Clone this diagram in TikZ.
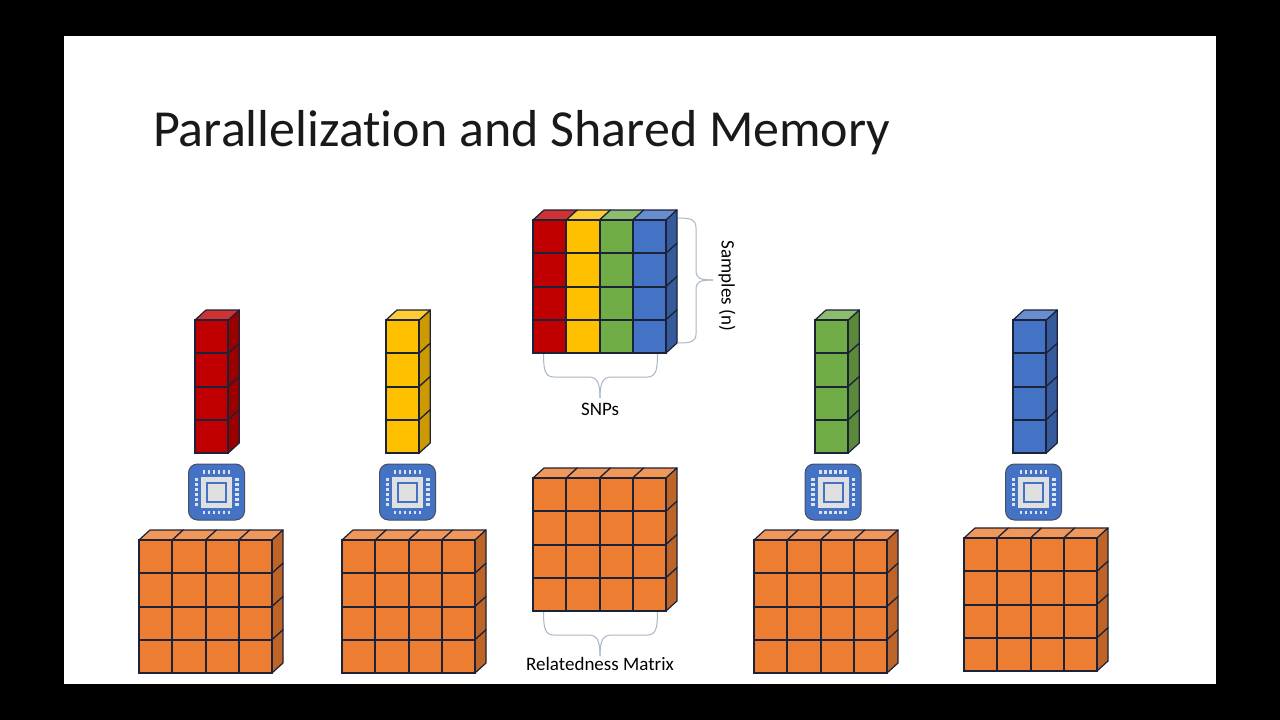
\documentclass[tikz,border=0pt]{standalone}
\usepackage{fontspec}
\setmainfont{Carlito}[Ligatures=NoCommon]
\definecolor{redF}{HTML}{C00000}\definecolor{redT}{HTML}{CD3333}\definecolor{redS}{HTML}{9A0000}
\definecolor{yelF}{HTML}{FFC000}\definecolor{yelT}{HTML}{FFCD33}\definecolor{yelS}{HTML}{CC9A00}
\definecolor{grnF}{HTML}{70AD47}\definecolor{grnT}{HTML}{8CBD6C}\definecolor{grnS}{HTML}{5A8A39}
\definecolor{bluF}{HTML}{4472C4}\definecolor{bluT}{HTML}{698ED0}\definecolor{bluS}{HTML}{365B9D}
\definecolor{orgF}{HTML}{ED7D31}\definecolor{orgT}{HTML}{F1975A}\definecolor{orgS}{HTML}{BE6427}
\definecolor{edgeC}{HTML}{1C2238}\definecolor{braceC}{HTML}{A9B6C6}
\tikzset{
  gridline/.style={fill=edgeC,draw=none},
  sidecell/.style={draw=edgeC,line width=1.2pt,line join=round},
  bracepath/.style={draw=braceC,line width=1pt},
  lab/.style={font=\fontsize{19}{21}\selectfont,text=black,inner sep=0pt},
  chipbody/.style={draw=edgeC!80,line width=1pt,fill=bluF,rounded corners=9pt},
  pin/.style={fill=white!80!bluF,draw=none},
}
% grid lines of the front, snapped to whole pixels: x, ytop, number of columns
\newcommand{\frontgrid}[3]{%
 \foreach \c in {0,...,#3}{%
  \pgfmathsetmacro{\xx}{round(#1+33.25*\c)}%
  \fill[gridline] (\xx-1,#2-1) rectangle (\xx+1,#2+134);
 }%
 \foreach \r in {0,...,4}{%
  \pgfmathsetmacro{\yy}{round(#2+33.25*\r)}%
  \pgfmathsetmacro{\xe}{round(#1+33.25*#3)}%
  \fill[gridline] (#1-1,\yy-1) rectangle (\xe+1,\yy+1);
 }%
}
% column: x, ytop, colour stem
\newcommand{\blockcol}[3]{%
 \foreach \r in {0,1,2,3}{%
  \pgfmathsetmacro{\yy}{#2+33.25*\r}%
  \draw[sidecell,fill=#3S] ({#1+33.25},\yy) -- ++(11,-10) -- ++(0,33.25) -- ++(-11,10) -- cycle;
 }%
 \fill[#3F] (#1,#2) rectangle ++(33.25,133);
 \draw[sidecell,fill=#3T] (#1,#2) -- ++(11,-10) -- ++(33.25,0) -- ++(-11,10) -- cycle;
 \frontgrid{#1}{#2}{1}%
}
\newcommand{\blockmulti}[6]{%
 \foreach \c/\cc in {0/#3,1/#4,2/#5,3/#6}{%
  \pgfmathsetmacro{\xx}{#1+33.25*\c}%
  \draw[sidecell,fill=\cc T] (\xx,#2) -- ++(11,-10) -- ++(33.25,0) -- ++(-11,10) -- cycle;
  \fill[\cc F] (\xx,#2) rectangle ++(33.25,133);
 }%
 \foreach \r in {0,1,2,3}{%
  \pgfmathsetmacro{\yy}{#2+33.25*\r}%
  \pgfmathsetmacro{\xs}{#1+133}%
  \draw[sidecell,fill=#6S] (\xs,\yy) -- ++(11,-10) -- ++(0,33.25) -- ++(-11,10) -- cycle;
 }%
 \frontgrid{#1}{#2}{4}%
}
\newcommand{\chipicon}[2]{%
 \begin{scope}[shift={(#1,#2)}]
  \draw[chipbody] (-28,-28) rectangle (28,28);
  \fill[fill=black!12] (-15.5,-15.5) rectangle (15.5,15.5);
  \draw[draw=bluF,line width=2pt,fill=black!12] (-9.5,-9.5) rectangle (9.5,9.5);
  \foreach \p in {-12.5,-7.5,-2.5,2.5,7.5,12.5}{%
   \fill[pin] (\p-1.3,-22) rectangle (\p+1.3,-18.5);
   \fill[pin] (\p-1.3,18.5) rectangle (\p+1.3,22);
   \fill[pin] (-22,\p-1.3) rectangle (-18.5,\p+1.3);
   \fill[pin] (18.5,\p-1.3) rectangle (22,\p+1.3);
  }
 \end{scope}
}
\begin{document}
\begin{tikzpicture}[x=1pt,y=-1pt]
\useasboundingbox (0,0) rectangle (1280,720);
\fill[black] (0,0) rectangle (1280,720);
\fill[white] (64,36) rectangle (1216,684);
\node[anchor=west,inner sep=0pt,font=\fontsize{52}{54}\selectfont,text=black!90] (title) at (153,133) {Parallelization and Shared Memory};
% columns
\blockcol{195}{320}{red}
\blockcol{386}{320}{yel}
\blockcol{815}{320}{grn}
\blockcol{1013}{320}{blu}
% top matrix
\blockmulti{533}{220}{red}{yel}{grn}{blu}
% orange matrices
\blockmulti{139}{540}{org}{org}{org}{org}
\blockmulti{342}{540}{org}{org}{org}{org}
\blockmulti{533}{478}{org}{org}{org}{org}
\blockmulti{754}{540}{org}{org}{org}{org}
\blockmulti{964}{538}{org}{org}{org}{org}
% chips
\chipicon{216.5}{492}
\chipicon{407.5}{492}
\chipicon{833}{492}
\chipicon{1033.5}{492}
% braces
\draw[bracepath] (678,218) .. controls (690,218) and (696,219) .. (696,228) -- (696,270) .. controls (696,278) and (699,280) .. (713,280);
\draw[bracepath] (678,343) .. controls (690,343) and (696,342) .. (696,334) -- (696,290) .. controls (696,282) and (699,280) .. (713,280);
\draw[bracepath] (543.5,354) .. controls (543.5,370) and (545,377) .. (554,377) -- (588,377) .. controls (597,377) and (600,382) .. (600,398);
\draw[bracepath] (657.5,354) .. controls (657.5,370) and (656,377) .. (647,377) -- (612,377) .. controls (603,377) and (600,382) .. (600,398);
\draw[bracepath] (543.5,612) .. controls (543.5,628) and (545,635) .. (554,635) -- (588,635) .. controls (597,635) and (600,640) .. (600,656);
\draw[bracepath] (657.5,612) .. controls (657.5,628) and (656,635) .. (647,635) -- (612,635) .. controls (603,635) and (600,640) .. (600,656);
% labels
\node[lab,rotate=-90] (samples) at (727,286) {Samples (n)};
\node[lab] (snps) at (600,409) {SNPs};
\node[lab] (rel) at (600,664) {Relatedness Matrix};
\end{tikzpicture}
\end{document}
